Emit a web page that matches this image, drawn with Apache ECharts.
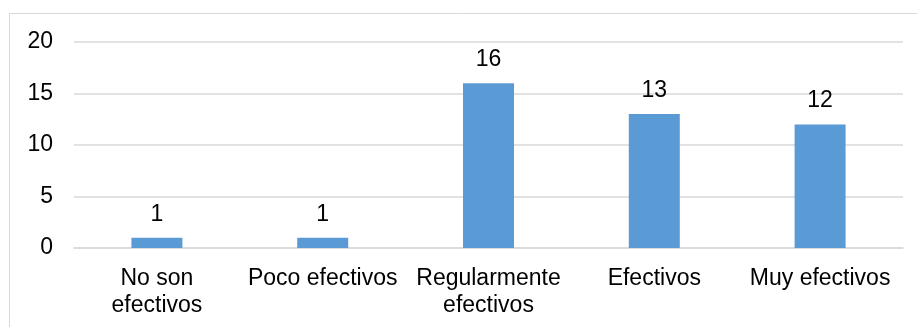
<!DOCTYPE html>
<html>
<head>
<meta charset="utf-8">
<script src="https://cdn.jsdelivr.net/npm/echarts@6/dist/echarts.min.js"></script>
<style>
  html, body { margin: 0; padding: 0; background: #fff; }
  #main { width: 917px; height: 327px; }
</style>
</head>
<body>
<div id="main"></div>
<script>
var categories = ['No son\nefectivos', 'Poco efectivos', 'Regularmente\nefectivos', 'Efectivos', 'Muy efectivos'];
var values = [1, 1, 16, 13, 12];
var yTicks = { min: 0, max: 20, interval: 5 };

var chartDom = document.getElementById('main');
var myChart = echarts.init(chartDom);
var font = 'Liberation Sans, Arial, sans-serif';

var option = {
  animation: false,
  graphic: [{
    type: 'rect',
    shape: { x: 9.5, y: 13.5, width: 930, height: 340 },
    style: { fill: 'none', stroke: '#d9d9d9', lineWidth: 1 },
    silent: true
  }],
  grid: { left: 74, right: 14, top: 42, bottom: 79 },
  xAxis: {
    type: 'category',
    data: categories,
    axisLine: { lineStyle: { color: '#d9d9d9', width: 1.5 } },
    axisTick: { show: false },
    axisLabel: {
      color: '#000',
      fontFamily: font,
      fontSize: 23,
      lineHeight: 27,
      margin: 17,
      interval: 0
    }
  },
  yAxis: {
    type: 'value',
    min: yTicks.min,
    max: yTicks.max,
    interval: yTicks.interval,
    axisLine: { show: false },
    axisTick: { show: false },
    splitLine: { lineStyle: { color: '#d9d9d9', width: 1.5 } },
    axisLabel: { color: '#000', fontFamily: font, fontSize: 23, margin: 21 }
  },
  series: [{
    type: 'bar',
    data: values,
    barWidth: 51,
    itemStyle: { color: '#5b9bd5' },
    label: {
      show: true,
      position: 'top',
      distance: 12,
      color: '#000',
      fontFamily: font,
      fontSize: 23
    }
  }]
};

myChart.setOption(option);
</script>
</body>
</html>
